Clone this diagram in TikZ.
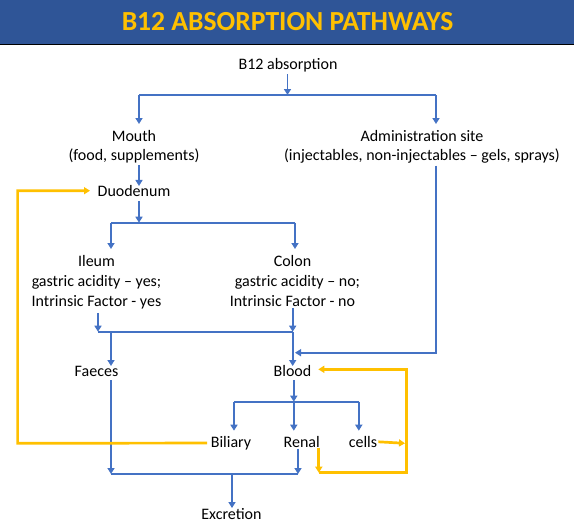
\documentclass[tikz,border=0pt]{standalone}
\usepackage{fontspec}
\setmainfont{Carlito}
\usetikzlibrary{arrows.meta}
\definecolor{barblue}{HTML}{2F5597}
\definecolor{lineblue}{HTML}{4472C4}
\definecolor{gold}{HTML}{FFC000}
\begin{document}
\begin{tikzpicture}[x=1pt, y=-1pt,
	lbl/.style={anchor=base, inner sep=0pt, align=center, font=\fontsize{16}{19.6}\selectfont},
	flow/.style={draw=lineblue, line width=1.7pt},
	back/.style={draw=gold, line width=2.7pt},
	tip/.style={-{Triangle[width=7pt, length=6pt]}}]
	\useasboundingbox (0,0) rectangle (574,531);
	\fill[barblue] (0,0) rectangle (574,44);
	\draw[line width=1pt] (0,44.5) -- (574,44.5);
	\node[anchor=base, inner sep=0pt, text=gold, font=\fontsize{27.6}{30}\selectfont\bfseries] (title) at (287.5,30.7) {B12 ABSORPTION PATHWAYS};
	% text nodes (base = last line)
	\node[lbl] (b12) at (288,69.3) {B12 absorption};
	\node[lbl] (mouth) at (134,160.7) {Mouth\\(food, supplements)};
	\node[lbl] (admin) at (422,160.7) {Administration site\\(injectables, non-injectables -- gels, sprays)};
	\node[lbl] (duod) at (134,196) {Duodenum};
	\node[lbl] (ileum) at (96.5,306) {Ileum\\gastric acidity -- yes;\\Intrinsic Factor - yes};
	\node[lbl] (colon) at (292.5,306) {Colon\\\hspace*{10pt}gastric acidity -- no;\\Intrinsic Factor - no};
	\node[lbl] (faeces) at (96.5,376.7) {Faeces};
	\node[lbl] (blood) at (292.5,376.7) {Blood};
	\node[lbl] (biliary) at (231,447.3) {Biliary};
	\node[lbl] (renal) at (301.7,447.3) {Renal};
	\node[lbl] (cells) at (363,447.3) {cells};
	\node[lbl] (excr) at (231.5,519.3) {Excretion};
	% junctions
	\coordinate (b12out) at (287.5,74);
	\coordinate (fork1) at (287.5,95);
	\coordinate (fork1L) at (139,95);
	\coordinate (fork1R) at (436,95);
	\coordinate (fork2) at (139,222.7);
	\coordinate (fork2L) at (111,222.7);
	\coordinate (fork2R) at (295,222.7);
	\coordinate (join1L) at (98,331.7);
	\coordinate (join1R) at (292.7,331.7);
	\coordinate (adminC) at (436,352.7);
	\coordinate (adminT) at (295,352.7);
	\coordinate (fork3) at (293.8,401.7);
	\coordinate (fork3L) at (234,401.7);
	\coordinate (fork3R) at (358.8,401.7);
	\coordinate (join2L) at (111,474);
	\coordinate (join2R) at (298,474);
	\coordinate (join2) at (232,474);
	\coordinate (loopA) at (318.8,472.7);
	\coordinate (loopB) at (406.5,472.7);
	\coordinate (loopC) at (406.5,369.3);
	\coordinate (loopD) at (17.6,443.3);
	\coordinate (loopE) at (17.6,190.7);
	\coordinate (duodIn) at (90,190.7);
	\coordinate (bloodIn) at (318.3,369.3);
	\coordinate (cellsOut) at (405,443.3);
	% blue pathways
	\draw[flow, tip] (b12out) -- (fork1);
	\draw[flow] (fork1L) -- (fork1R);
	\draw[flow, tip] (fork1L) -- ++(0,29);
	\draw[flow, tip] (fork1R) -- ++(0,29);
	\draw[flow, tip] (fork1L |- mouth.south) ++(0,1.5) -- ++(0,21);
	\draw[flow, tip] (fork2 |- duod.south) ++(0,5) -- (fork2);
	\draw[flow] (fork2L) -- (fork2R);
	\draw[flow, tip] (fork2L) -- ++(0,26.3);
	\draw[flow, tip] (fork2R) -- ++(0,26.3);
	\draw[flow, tip] (join1L |- ileum.south) ++(0,4) -- (join1L);
	\draw[flow, tip] (join1R |- colon.south) ++(0,2) -- (join1R);
	\draw[flow] (join1L) -- (join1R);
	\draw[flow, tip] (join1L -| fork2L) -- ++(0,34.3);
	\draw[flow, tip] (join1R) -- ++(0,34.3);
	\draw[flow, tip] (fork1R |- admin.south) ++(0,2) -- (adminC) -- (adminT);
	\draw[flow, tip] (fork3 |- blood.south) ++(0,3) -- (fork3);
	\draw[flow] (fork3L) -- (fork3R);
	\draw[flow, tip] (fork3L) -- ++(0,29);
	\draw[flow, tip] (fork3) -- ++(0,29);
	\draw[flow, tip] (fork3R) -- ++(0,29);
	\draw[flow, tip] (join2L |- faeces.south) ++(0,3) -- (join2L);
	\draw[flow, tip] (join2R |- renal.south) ++(0,1) -- (join2R);
	\draw[flow] (join2L) -- (join2R);
	\draw[flow, tip] (join2) -- (excr.north -| join2);
	% recycling loops
	\draw[back, tip] (biliary.west) ++(-3.5,0) -- (loopD) -- (loopE) -- (duodIn);
	\draw[back, tip] (cells.east) ++(1,0) -- (cellsOut);
	\draw[back, tip] (loopA |- renal.south) -- (loopA);
	\draw[back, tip] (loopA) -- (loopB) -- (loopC) -- (bloodIn);
\end{tikzpicture}
\end{document}
